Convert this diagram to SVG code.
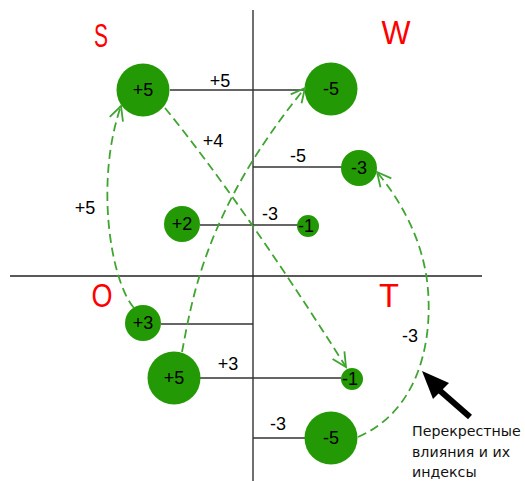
<svg xmlns="http://www.w3.org/2000/svg" width="525" height="481" viewBox="0 0 525 481">
<defs>
<style>
.ax{stroke:#222;stroke-width:1.3;fill:none}
.ln{stroke:#333;stroke-width:1.3;fill:none}
.nd{fill:#239a05}
.nt{font-family:"Liberation Sans",Arial,sans-serif;font-size:18px;fill:#000;text-anchor:middle}
.lb{font-family:"Liberation Sans",Arial,sans-serif;font-size:18px;fill:#000;text-anchor:middle}
.q{font-family:"Liberation Sans",Arial,sans-serif;font-size:33px;fill:#ff0000;text-anchor:middle}
.dc{stroke:#3fa530;stroke-width:1.8;stroke-dasharray:9 5;fill:none;marker-end:url(#ah)}
.note{font-family:"DejaVu Sans",sans-serif;font-size:14.2px;fill:#111}
</style>
<marker id="ah" viewBox="0 0 20 20" refX="18" refY="10" markerWidth="20" markerHeight="20" markerUnits="userSpaceOnUse" orient="auto">
<path d="M4,3 L18,10 L4,17" fill="none" stroke="#3fa530" stroke-width="1.8"/>
</marker>
</defs>
<g id="axes">
<line class="ax" x1="253" y1="10" x2="253" y2="481"/>
<line class="ax" x1="10" y1="276" x2="482" y2="276"/>
</g>
<g id="quadrants">
<text class="q" x="101" y="47" textLength="14" lengthAdjust="spacingAndGlyphs">S</text>
<text class="q" x="396" y="44" textLength="29" lengthAdjust="spacingAndGlyphs">W</text>
<text class="q" x="102" y="307" textLength="21" lengthAdjust="spacingAndGlyphs">O</text>
<text class="q" x="389" y="307" textLength="20" lengthAdjust="spacingAndGlyphs">T</text>
</g>
<g id="links">
<line class="ln" x1="170" y1="90" x2="305" y2="90"/>
<line class="ln" x1="253" y1="167" x2="342" y2="167"/>
<line class="ln" x1="200" y1="225" x2="300" y2="225"/>
<line class="ln" x1="161" y1="324" x2="253" y2="324"/>
<line class="ln" x1="200" y1="378" x2="341" y2="378"/>
<line class="ln" x1="253" y1="438" x2="305" y2="438"/>
</g>
<g id="link-labels">
<text class="lb" x="220" y="87">+5</text>
<text class="lb" x="213" y="147">+4</text>
<text class="lb" x="298" y="162">-5</text>
<text class="lb" x="270" y="220">-3</text>
<text class="lb" x="85" y="214">+5</text>
<text class="lb" x="228" y="370">+3</text>
<text class="lb" x="278" y="430">-3</text>
<text class="lb" x="410" y="342">-3</text>
</g>
<g id="node-s5"><circle class="nd" cx="143" cy="90" r="26.5"/><text class="nt" x="143" y="96">+5</text></g>
<g id="node-w5"><circle class="nd" cx="331" cy="89" r="26.5"/><text class="nt" x="331" y="95">-5</text></g>
<g id="node-w3"><circle class="nd" cx="359" cy="168" r="18"/><text class="nt" x="359" y="174">-3</text></g>
<g id="node-p2"><circle class="nd" cx="182" cy="224" r="18"/><text class="nt" x="182" y="230">+2</text></g>
<g id="node-m1a"><circle class="nd" cx="308" cy="226" r="11"/><text class="nt" x="306" y="232">-1</text></g>
<g id="node-p3"><circle class="nd" cx="143" cy="323" r="18"/><text class="nt" x="143" y="329">+3</text></g>
<g id="node-p5b"><circle class="nd" cx="174" cy="378" r="26.5"/><text class="nt" x="174" y="384">+5</text></g>
<g id="node-m1b"><circle class="nd" cx="352" cy="379" r="11"/><text class="nt" x="350" y="385">-1</text></g>
<g id="node-m5b"><circle class="nd" cx="331" cy="438" r="26.5"/><text class="nt" x="331" y="444">-5</text></g>
<g id="connectors">
<path class="dc" d="M134,308 C110,280 95,180 121,106"/>
<path class="dc" d="M182,352 C192,300 205,210 305,88"/>
<path class="dc" d="M165,108 Q240,200 346,367"/>
<path class="dc" d="M358,437 C420,410 432,340 428,290 C424,240 400,200 377,172"/>
</g>
<g id="callout">
<line x1="470" y1="417" x2="438" y2="389" stroke="#000" stroke-width="6"/>
<polygon points="422,371 449,383 433,399" fill="#000"/>
<text class="note" x="412" y="436">Перекрестные</text>
<text class="note" x="412" y="457">влияния и их</text>
<text class="note" x="412" y="477">индексы</text>
</g>
</svg>
